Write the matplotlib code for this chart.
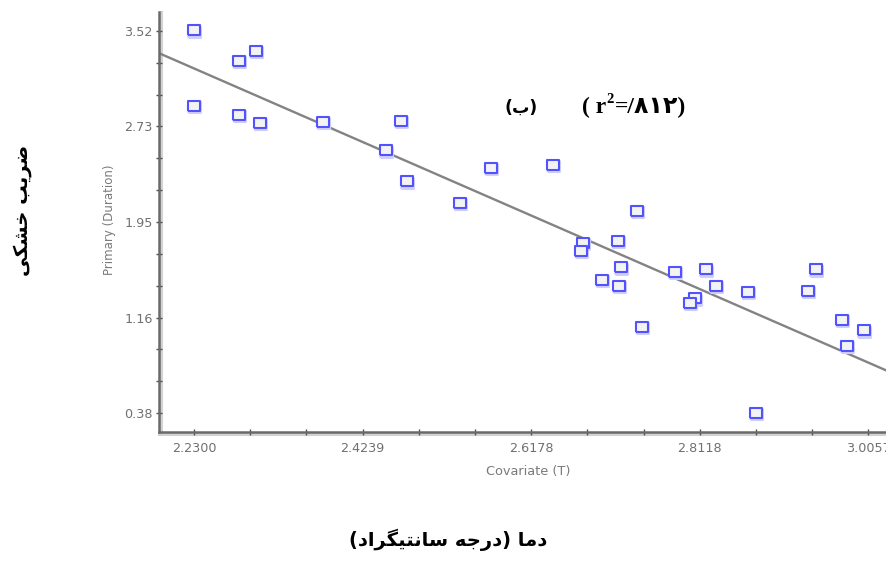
import matplotlib
matplotlib.use("Agg")
import matplotlib.pyplot as plt
import matplotlib.transforms as mtransforms
from matplotlib.ticker import FixedLocator
import numpy as np

# ---- data ----
covariate = [2.2300, 2.2300, 2.2821, 2.3013, 2.2821, 2.3062, 2.3780, 2.4684,
             2.4508, 2.4750, 2.5359, 2.5716, 2.6432, 2.7391, 2.6770, 2.6747,
             2.7180, 2.7207, 2.6996, 2.7188, 2.7449, 2.7828, 2.8185, 2.8307,
             2.8062, 2.8004, 2.8671, 2.8760, 2.9365, 2.9450, 2.9756, 3.0009,
             2.9807]
primary = [3.528, 2.906, 3.276, 3.356, 2.832, 2.766, 2.772, 2.783,
           2.538, 2.285, 2.109, 2.396, 2.419, 2.043, 1.780, 1.712,
           1.794, 1.580, 1.476, 1.424, 1.090, 1.542, 1.561, 1.426,
           1.323, 1.287, 1.377, 0.383, 1.385, 1.561, 1.145, 1.062,
           0.931]
fit_slope = -3.117
fit_intercept = 10.163

x_major = [2.2300, 2.4239, 2.6178, 2.8118, 3.0057]
x_labels = ["2.2300", "2.4239", "2.6178", "2.8118", "3.0057"]
y_major = [3.52, 2.735, 1.95, 1.165, 0.38]
y_labels = ["3.52", "2.73", "1.95", "1.16", "0.38"]

# Persian texts (presentation forms, visual order)
ylab_fa = "\uFBFD\uFB91\uFEB8\uFEA7 \uFE90\uFBFE\uFEAE\uFEBF"          # ضریب خشکی
xlab_fa = ("(" + "\uFEA9\uFE8D\uFEAE\uFB95\uFBFF\uFE98\uFEE7\uFE8E\uFEB3" + " "
           + "\uFEEA\uFE9F\uFEAD\uFEA9" + ")" + " " + "\uFE8E\uFEE3\uFEA9")  # دما (درجه سانتیگراد)
panel_fa = "(\uFE8F)"                                               # (ب)
r2_digits = "\u06F8\u06F1\u06F2"

W, H = 886, 563
fig = plt.figure(figsize=(W / 100, H / 100), dpi=100)
fig.patch.set_facecolor("white")
ax = fig.add_axes([159 / W, (H - 432) / H, (W - 159) / W, (432 - 12) / H])

xmin, xmax = 2.1897, 3.026
ymin, ymax = 0.224, 3.676
ax.set_xlim(xmin, xmax)
ax.set_ylim(ymin, ymax)

# regression line
ax.axline((0, fit_intercept), slope=fit_slope, color="#838383", lw=1.7, zorder=2)

# markers: rectangle a bit wider than tall
rect = [(-1.3, -1), (1.3, -1), (1.3, 1), (-1.3, 1), (-1.3, -1)]
shadow = ax.transData + mtransforms.ScaledTranslation(0, -1.5 / 100, fig.dpi_scale_trans)
ax.plot(covariate, primary, linestyle="none", marker=rect, markersize=9,
        markerfacecolor="none", markeredgecolor="#cfcfff", markeredgewidth=2.2,
        transform=shadow, zorder=3)
ax.plot(covariate, primary, linestyle="none", marker=rect, markersize=9,
        markerfacecolor="#f3f3f3", markeredgecolor="#5252ff", markeredgewidth=1.5,
        zorder=4)

# spines
for s in ["top", "right"]:
    ax.spines[s].set_visible(False)
for s in ["left", "bottom"]:
    ax.spines[s].set_color("#6a6a6a")
    ax.spines[s].set_linewidth(1.8)
# spine shadows
offx = ax.transAxes + mtransforms.ScaledTranslation(2.2 / 100, 0, fig.dpi_scale_trans)
offy = ax.transAxes + mtransforms.ScaledTranslation(0, -2.2 / 100, fig.dpi_scale_trans)
ax.plot([0, 0], [-0.005, 1], color="#d2d2d2", lw=2.2, transform=offx, clip_on=False, zorder=0)
ax.plot([0, 1], [0, 0], color="#d2d2d2", lw=2.2, transform=offy, clip_on=False, zorder=0)

# ticks
ax.set_xticks(x_major)
ax.set_xticklabels(x_labels)
ax.set_yticks(y_major)
ax.set_yticklabels(y_labels)
dx = (x_major[1] - x_major[0]) / 3
dy = (y_major[0] - y_major[1]) / 3
xminor = [x_major[0] + dx * i for i in range(1, 12) if i % 3 != 0]
yminor = [y_major[-1] + dy * i for i in range(1, 13) if i % 3 != 0]
ax.xaxis.set_minor_locator(FixedLocator(xminor))
ax.yaxis.set_minor_locator(FixedLocator(yminor))
ax.tick_params(which="both", direction="inout", length=5, width=1.0, color="#505050",
               labelsize=9.2, labelcolor="#707070")
ax.tick_params(axis="y", which="both", pad=2)
ax.tick_params(axis="x", which="both", pad=5)
for lab in ax.get_xticklabels() + ax.get_yticklabels():
    lab.set_family("DejaVu Sans")

# English axis labels (small gray)
fig.text(109 / W, 1 - 220 / H, "Primary (Duration)", rotation=90, ha="center", va="center",
         fontsize=8.5, color="#7a7a7a", family="DejaVu Sans")
fig.text(528 / W, 1 - 472 / H, "Covariate (T)", ha="center", va="center",
         fontsize=9.3, color="#7a7a7a", family="DejaVu Sans")

# Persian labels
fig.text(23 / W, 1 - 210 / H, ylab_fa, rotation=90, ha="center", va="center",
         fontsize=14, fontweight="bold", family=["DejaVu Sans"])
fig.text(448 / W, 1 - 540 / H, xlab_fa, ha="center", va="center",
         fontsize=14, fontweight="bold", family=["DejaVu Sans"])
fig.text(521 / W, 1 - 108 / H, panel_fa, ha="center", va="center",
         fontsize=12.5, fontweight="bold", family=["DejaVu Sans"])

# ( r^2=/812 )
renderer = fig.canvas.get_renderer()
base_y = 1 - 113 / H
t1 = fig.text(582 / W, base_y, "( r", fontsize=17, fontweight="bold",
              family=["Liberation Serif"], va="baseline", ha="left")
bb1 = t1.get_window_extent(renderer)
t2 = fig.text(bb1.x1 / W + 0.5 / W, base_y + 10 / H, "2", fontsize=10.5, fontweight="bold",
              family=["Liberation Serif"], va="baseline", ha="left")
bb2 = t2.get_window_extent(renderer)
fig.text(bb2.x1 / W + 0.5 / W, base_y, "=/" + r2_digits + ")", fontsize=17, fontweight="bold",
         family=["Liberation Serif", "DejaVu Sans"], va="baseline", ha="left")

fig.savefig("out.png", dpi=100, facecolor="white")
